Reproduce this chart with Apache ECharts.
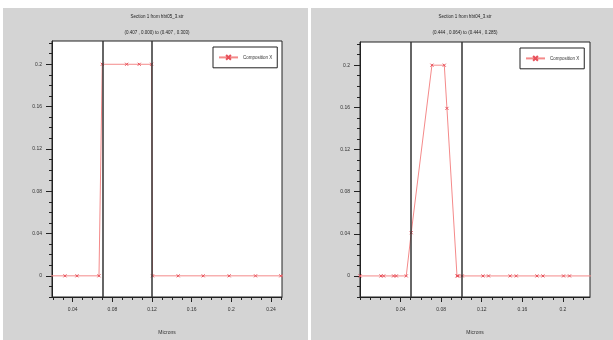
<!DOCTYPE html>
<html>
<head>
<meta charset="utf-8">
<script src="https://cdn.jsdelivr.net/npm/echarts@6/dist/echarts.min.js"></script>
<style>
  html, body { margin: 0; padding: 0; background: #fff; }
  .panel { position: absolute; top: 8px; height: 332px; background: #d4d4d4; }
</style>
</head>
<body>
<div class="panel" style="left:3px;width:305px;"></div>
<div class="panel" style="left:311px;width:302px;"></div>
<div id="chart" style="position:absolute;left:0;top:0;width:613px;height:340px;"></div>
<script>
// left panel: hbt05_3
const titleL = ['Section 1 from hbt05_3.str', '(0.407 , 0.000) to (0.407 , 0.303)']
const xsL = [0, 0.0322, 0.0443, 0.0665, 0.0698, 0.0944, 0.1071, 0.1196, 0.1205, 0.1464, 0.1716, 0.1978, 0.2244, 0.2499, 0.303]
const ysL = [0, 0, 0, 0, 0.2, 0.2, 0.2, 0.2, 0, 0, 0, 0, 0, 0, 0]
const edgesL = [0.069, 0.12]
const xTicksL = [0.04, 0.08, 0.12, 0.16, 0.2, 0.24]

// right panel: hbt04_3
const titleR = ['Section 1 from hbt04_3.str', '(0.444 , 0.064) to (0.444 , 0.285)']
const xsR = [0, 0.0207, 0.0233, 0.0331, 0.0358, 0.0456, 0.0505, 0.0709, 0.0831, 0.0857, 0.0956, 0.0966, 0.1008, 0.1212, 0.1267, 0.148, 0.154, 0.1744, 0.1803, 0.2006, 0.2065, 0.23]
const ysR = [0, 0, 0, 0, 0, 0, 0.041, 0.2, 0.2, 0.159, 0, 0, 0, 0, 0, 0, 0, 0, 0, 0, 0, 0]
const edgesR = [0.0456, 0.0956]
const xTicksR = [0.04, 0.08, 0.12, 0.16, 0.2]

const yTicks = [0, 0.04, 0.08, 0.12, 0.16, 0.2]
const seriesName = 'Composition X'
const xLabel = 'Microns'

const font = 'Liberation Sans'
const axisColor = '#222'

// minor ticks every 0.01 inside [lo, hi]
const minors = (lo, hi) => {
  const out = []
  for (let i = Math.ceil(lo * 100 - 1e-6); i <= Math.floor(hi * 100 + 1e-6); i++) out.push(i / 100)
  return out
}

const grids = [
  {left: 52, top: 41, width: 230, height: 263},
  {left: 360, top: 42, width: 230, height: 263},
]
const xRange = [[0.0191, 0.2511], [0, 0.2267]]
const yRange = [-0.02, 0.222]

const xAxes = []
const yAxes = []
;[xTicksL, xTicksR].forEach((ticks, g) => {
  xAxes.push({
    type: 'value', gridIndex: g, position: 'bottom', min: xRange[g][0], max: xRange[g][1],
    name: xLabel, nameLocation: 'middle', nameGap: 33,
    nameTextStyle: {fontSize: 5, color: '#333', fontFamily: font},
    axisLine: {onZero: false, lineStyle: {color: axisColor, width: 1}},
    axisTick: {customValues: ticks, length: 5, lineStyle: {color: axisColor}},
    axisLabel: {customValues: ticks, margin: 10, fontSize: 5, color: '#333', fontFamily: font},
    splitLine: {show: false},
  })
  xAxes.push({
    type: 'value', gridIndex: g, position: 'bottom', offset: 0, min: xRange[g][0], max: xRange[g][1],
    axisLine: {show: false, onZero: false},
    axisTick: {customValues: minors(xRange[g][0], xRange[g][1]), length: 3, lineStyle: {color: axisColor}},
    axisLabel: {show: false},
    splitLine: {show: false},
  })
  yAxes.push({
    type: 'value', gridIndex: g, position: 'left', min: yRange[0], max: yRange[1],
    axisLine: {onZero: false, lineStyle: {color: axisColor, width: 1}},
    axisTick: {customValues: yTicks, length: 6, lineStyle: {color: axisColor}},
    axisLabel: {customValues: yTicks, margin: 10, fontSize: 5, color: '#333', fontFamily: font},
    splitLine: {show: false},
  })
  yAxes.push({
    type: 'value', gridIndex: g, position: 'left', offset: 0, min: yRange[0], max: yRange[1],
    axisLine: {show: false, onZero: false},
    axisTick: {customValues: minors(yRange[0], yRange[1]), length: 3, lineStyle: {color: axisColor}},
    axisLabel: {show: false},
    splitLine: {show: false},
  })
})

const makeSeries = (xs, ys, edges, g) => ({
  name: seriesName,
  type: 'line',
  xAxisIndex: g * 2,
  yAxisIndex: g * 2,
  data: xs.map((x, i) => [x, ys[i]]),
  clip: true,
  symbol: 'path://M0,0L10,10M10,0L0,10',
  symbolSize: 3,
  lineStyle: {color: '#f48a8a', width: 1},
  itemStyle: {color: '#e8505a', borderColor: '#e8505a', borderWidth: 1},
  markLine: {
    silent: true,
    symbol: 'none',
    label: {show: false},
    lineStyle: {color: '#333', width: 1.5, type: 'solid'},
    data: edges.map(e => ({xAxis: e})),
  },
})

const legendBox = (left, top) => ({
  left, top,
  data: [seriesName],
  orient: 'horizontal',
  backgroundColor: '#fff',
  borderColor: '#222',
  borderWidth: 1,
  borderRadius: 0,
  padding: [7, 5, 7, 5],
  itemWidth: 19,
  itemHeight: 6,
  itemGap: 5,
  selectedMode: false,
  textStyle: {fontSize: 4.5, color: '#333', fontFamily: font},
})

const titleText = (lines, cx) => lines.map((t, i) => ({
  type: 'text',
  x: cx,
  y: i === 0 ? 17 : 33,
  style: {text: t, fill: '#222', font: '4.5px "' + font + '"', textAlign: 'center', textVerticalAlign: 'middle'},
}))

const chart = echarts.init(document.getElementById('chart'), null, {renderer: 'canvas'})
chart.setOption({
  animation: false,
  backgroundColor: 'transparent',
  grid: grids.map(g => Object.assign({show: true, backgroundColor: '#fff', borderColor: axisColor, borderWidth: 1, containLabel: false}, g)),
  xAxis: xAxes,
  yAxis: yAxes,
  legend: [legendBox(213, 47), legendBox(520, 48)],
  graphic: [...titleText(titleL, 157), ...titleText(titleR, 465)],
  series: [makeSeries(xsL, ysL, edgesL, 0), makeSeries(xsR, ysR, edgesR, 1)],
})
</script>
</body>
</html>
